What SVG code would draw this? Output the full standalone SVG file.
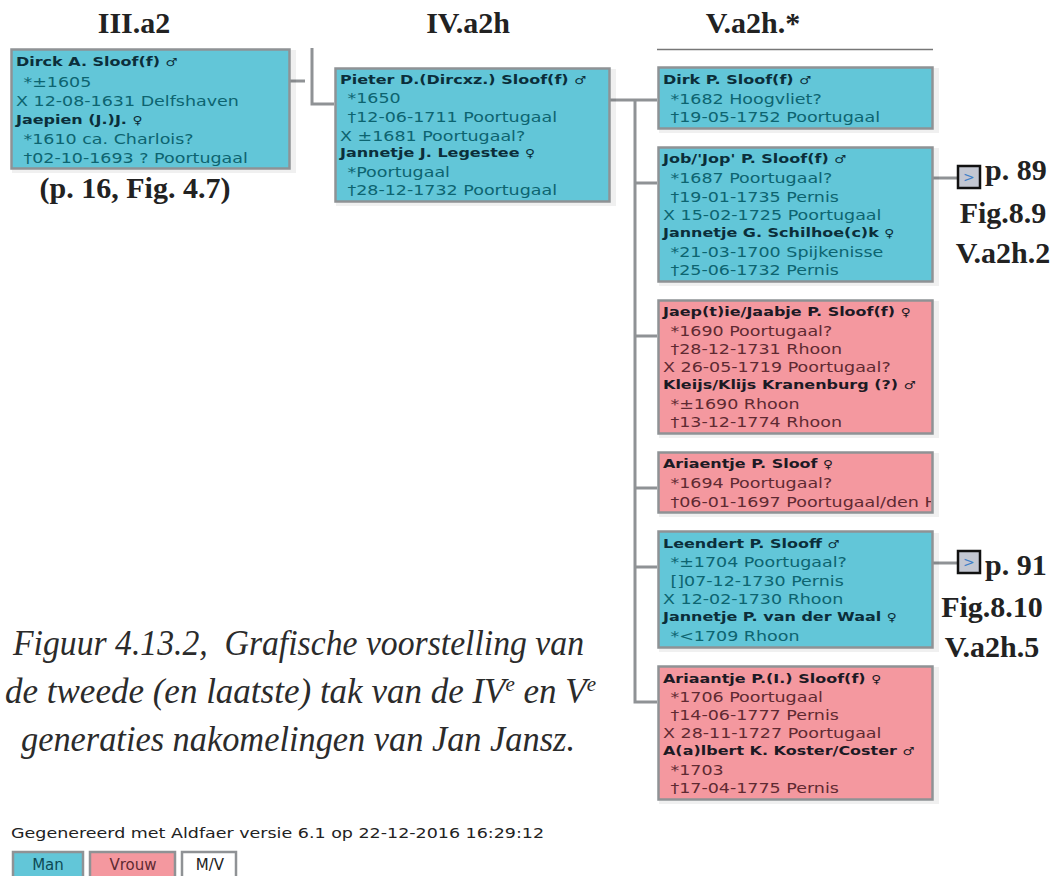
<svg xmlns="http://www.w3.org/2000/svg" width="1061" height="876" viewBox="0 0 1061 876">
<style>
text{font-family:"DejaVu Sans",Verdana,sans-serif;font-size:14.1px;white-space:pre}
text.b{font-weight:bold;font-size:12.9px}
.box{stroke:#8f9295;stroke-width:2.5}
.m{fill:#62c6d8}.f{fill:#f4989f}
.m text{fill:#0d6470}.m text.b{fill:#0b2e3a}
.f text{fill:#5f2a32}.f text.b{fill:#1c1a24}
.s{font-size:11px;font-weight:normal}
text.h{font-family:"Liberation Serif",serif;font-weight:bold;font-size:30px;fill:#222}
text.cap{font-family:"Liberation Serif",serif;font-style:italic;font-size:35px;fill:#2b2b2b}
.sup{font-size:21px}
.c{fill:none;stroke:#8f9295;stroke-width:3}
.sh{fill:#000;opacity:.06}
.btn{fill:#c3c7d2;stroke:#111;stroke-width:2.5}
text.arr{fill:#3f7fc8;font-size:14px}
.leg{fill:#222}
text.lg{font-size:15px}
</style>
<defs>
<clipPath id="clip4"><rect x="657" y="451" width="274" height="62"/></clipPath>
</defs>

<g id="headings">
<text class="h" x="134" y="33" text-anchor="middle">III.a2</text>
<text class="h" x="135" y="198" text-anchor="middle">(p. 16, Fig. 4.7)</text>
<text class="h" x="468" y="33" text-anchor="middle">IV.a2h</text>
<text class="h" x="753" y="33" text-anchor="middle">V.a2h.*</text>
</g>

<g id="connectors">
<path class="c" d="M290 81H305"/>
<path class="c" d="M312 48V104H334"/>
<path class="c" d="M610 100H657M635 100V702H657M635 183H657M635 336H657M635 488H657M635 567H657"/>
<path class="c" d="M933 178H957"/>
<path class="c" d="M933 563H957"/>
<path d="M657 49.500H933" fill="none" stroke="#777" stroke-width="1.5"/>
</g>

<g id="n1" class="m">
<rect class="sh" x="12" y="50" width="284" height="123"/>
<rect class="box" x="11.500" y="49.500" width="278" height="119"/>
<g transform="translate(16,0) scale(1.24,1)">
<text class="b" y="66">Dirck A. Sloof(f) <tspan class="s">♂</tspan></text>
<text x="6" y="87">*±1605</text>
<text y="106">X 12-08-1631 Delfshaven</text>
<text class="b" y="124">Jaepien (J.)J. <tspan class="s">♀</tspan></text>
<text x="6" y="144">*1610 ca. Charlois?</text>
<text x="6" y="163">†02-10-1693 ? Poortugaal</text>
</g>
</g>

<g id="n2" class="m">
<rect class="sh" x="336" y="69" width="280" height="137"/>
<rect class="box" x="335.500" y="68.500" width="274" height="133"/>
<g transform="translate(340,0) scale(1.24,1)">
<text class="b" y="84">Pieter D.(Dircxz.) Sloof(f) <tspan class="s">♂</tspan></text>
<text x="6" y="103">*1650</text>
<text x="6" y="122">†12-06-1711 Poortugaal</text>
<text y="141">X ±1681 Poortugaal?</text>
<text class="b" y="157">Jannetje J. Legestee <tspan class="s">♀</tspan></text>
<text x="6" y="177">*Poortugaal</text>
<text x="6" y="195">†28-12-1732 Poortugaal</text>
</g>
</g>

<g id="n3" class="m">
<rect class="sh" x="659" y="68" width="280" height="65"/>
<rect class="box" x="658.500" y="67.500" width="274" height="61"/>
<g transform="translate(663,0) scale(1.24,1)">
<text class="b" y="84">Dirk P. Sloof(f) <tspan class="s">♂</tspan></text>
<text x="6" y="104">*1682 Hoogvliet?</text>
<text x="6" y="122">†19-05-1752 Poortugaal</text>
</g>
</g>

<g id="n4" class="m">
<rect class="sh" x="659" y="148" width="280" height="138"/>
<rect class="box" x="658.500" y="147.500" width="274" height="134"/>
<g transform="translate(663,0) scale(1.24,1)">
<text class="b" y="163">Job/'Jop' P. Sloof(f) <tspan class="s">♂</tspan></text>
<text x="6" y="183">*1687 Poortugaal?</text>
<text x="6" y="202">†19-01-1735 Pernis</text>
<text y="220">X 15-02-1725 Poortugaal</text>
<text class="b" y="237">Jannetje G. Schilhoe(c)k <tspan class="s">♀</tspan></text>
<text x="6" y="257">*21-03-1700 Spijkenisse</text>
<text x="6" y="275">†25-06-1732 Pernis</text>
</g>
</g>

<g id="n4-more">
<rect class="btn" x="958" y="166" width="22" height="22"/>
<text class="arr" x="963" y="182">&gt;</text>
<text class="h" x="985" y="180">p. 89</text>
<text class="h" x="1003" y="223" text-anchor="middle">Fig.8.9</text>
<text class="h" x="1003" y="263" text-anchor="middle">V.a2h.2</text>
</g>

<g id="n5" class="f">
<rect class="sh" x="659" y="301" width="280" height="137"/>
<rect class="box" x="658.500" y="300.500" width="274" height="133"/>
<g transform="translate(663,0) scale(1.24,1)">
<text class="b" y="316">Jaep(t)ie/Jaabje P. Sloof(f) <tspan class="s">♀</tspan></text>
<text x="6" y="336">*1690 Poortugaal?</text>
<text x="6" y="354">†28-12-1731 Rhoon</text>
<text y="372">X 26-05-1719 Poortugaal?</text>
<text class="b" y="389">Kleijs/Klijs Kranenburg (?) <tspan class="s">♂</tspan></text>
<text x="6" y="409">*±1690 Rhoon</text>
<text x="6" y="427">†13-12-1774 Rhoon</text>
</g>
</g>

<g id="n6" class="f">
<rect class="sh" x="659" y="453" width="280" height="64"/>
<rect class="box" x="658.500" y="452.500" width="274" height="60"/>
<g clip-path="url(#clip4)">
<g transform="translate(663,0) scale(1.24,1)">
<text class="b" y="468">Ariaentje P. Sloof <tspan class="s">♀</tspan></text>
<text x="6" y="488">*1694 Poortugaal?</text>
<text x="6" y="507">†06-01-1697 Poortugaal/den H</text>
</g>
</g>
</g>

<g id="n7" class="m">
<rect class="sh" x="659" y="533" width="280" height="119"/>
<rect class="box" x="658.500" y="531.500" width="274" height="116"/>
<g transform="translate(663,0) scale(1.24,1)">
<text class="b" y="548">Leendert P. Slooff <tspan class="s">♂</tspan></text>
<text x="6" y="567">*±1704 Poortugaal?</text>
<text x="6" y="586">[]07-12-1730 Pernis</text>
<text y="604">X 12-02-1730 Rhoon</text>
<text class="b" y="621">Jannetje P. van der Waal <tspan class="s">♀</tspan></text>
<text x="6" y="641">*&lt;1709 Rhoon</text>
</g>
</g>

<g id="n7-more">
<rect class="btn" x="958" y="551" width="22" height="22"/>
<text class="arr" x="963" y="567">&gt;</text>
<text class="h" x="985" y="575">p. 91</text>
<text class="h" x="992" y="617" text-anchor="middle">Fig.8.10</text>
<text class="h" x="992" y="657" text-anchor="middle">V.a2h.5</text>
</g>

<g id="n8" class="f">
<rect class="sh" x="659" y="667" width="280" height="137"/>
<rect class="box" x="658.500" y="666.500" width="274" height="133"/>
<g transform="translate(663,0) scale(1.24,1)">
<text class="b" y="683">Ariaantje P.(I.) Sloof(f) <tspan class="s">♀</tspan></text>
<text x="6" y="702">*1706 Poortugaal</text>
<text x="6" y="720">†14-06-1777 Pernis</text>
<text y="738">X 28-11-1727 Poortugaal</text>
<text class="b" y="755">A(a)lbert K. Koster/Coster <tspan class="s">♂</tspan></text>
<text x="6" y="775">*1703</text>
<text x="6" y="793">†17-04-1775 Pernis</text>
</g>
</g>

<g id="caption">
<text class="cap" x="13" y="655" textLength="571" lengthAdjust="spacingAndGlyphs">Figuur 4.13.2,  Grafische voorstelling van</text>
<text class="cap" x="5" y="703">de tweede (en laatste) tak van de IV<tspan class="sup" dy="-12">e</tspan><tspan dy="12"> en V</tspan><tspan class="sup" dy="-12">e</tspan></text>
<text class="cap" x="21" y="751" textLength="554" lengthAdjust="spacingAndGlyphs">generaties nakomelingen van Jan Jansz.</text>
</g>

<g id="legend">
<g transform="translate(11,0) scale(1.24,1)">
<text class="leg" y="838">Gegenereerd met Aldfaer versie 6.1 op 22-12-2016 16:29:12</text>
</g>
<g id="leg-man" class="m"><rect class="box" x="13" y="852" width="70" height="26"/><text class="lg" x="48" y="870" text-anchor="middle" style="fill:#0d4a55">Man</text></g>
<g id="leg-vrouw" class="f"><rect class="box" x="90" y="852" width="85" height="26"/><text class="lg" x="133" y="870" text-anchor="middle" style="fill:#5f2a32">Vrouw</text></g>
<g id="leg-mv"><rect class="box" x="182" y="852" width="54" height="26" fill="#fff"/><text class="lg leg" x="210" y="870" text-anchor="middle">M/V</text></g>
</g>
</svg>
